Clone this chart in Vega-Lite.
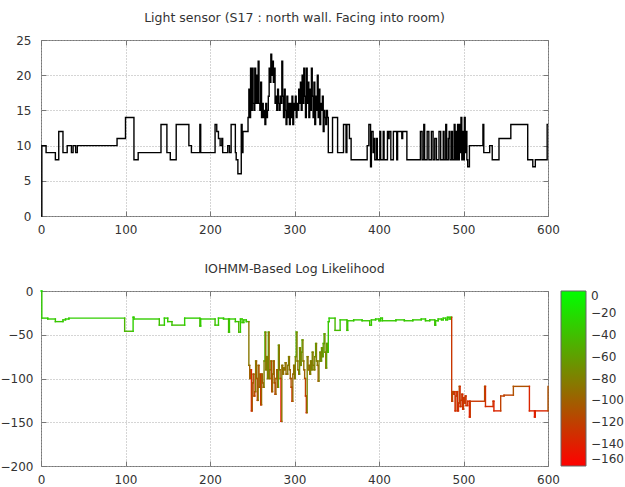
{
  "$schema": "https://vega.github.io/schema/vega-lite/v6.json",
  "background": "white",
  "padding": {"left": -1, "top": 11, "right": 0, "bottom": 0},
  "spacing": 26,
  "datasets": {
    "light": [
      {"t":0,"v":0},{"t":1,"v":10},{"t":6,"v":9},{"t":17,"v":8},{"t":21,"v":12},{"t":26,"v":9},{"t":31,"v":10},{"t":36,"v":9},{"t":38,"v":10},{"t":41,"v":9},{"t":43,"v":10},{"t":90,"v":11},{"t":100,"v":14},{"t":110,"v":8},{"t":115,"v":9},{"t":142,"v":13},{"t":149,"v":9},{"t":153,"v":8},{"t":160,"v":13},{"t":175,"v":10},{"t":178,"v":9},{"t":188,"v":13},{"t":189,"v":9},{"t":206,"v":13},{"t":208,"v":12},{"t":210,"v":11},{"t":212,"v":10},{"t":214,"v":11},{"t":215,"v":9},{"t":221,"v":10},{"t":223,"v":9},{"t":225,"v":13},{"t":230,"v":9},{"t":231,"v":8},{"t":233,"v":6},{"t":237,"v":13},{"t":238,"v":9},{"t":239,"v":12},
      {"t":245,"v":14},{"t":246,"v":18},{"t":247,"v":14},{"t":248,"v":21},{"t":249,"v":15},{"t":250,"v":21},{"t":251,"v":16},{"t":252,"v":15},{"t":253,"v":21},{"t":254,"v":16},{"t":255,"v":20},{"t":256,"v":16},{"t":257,"v":22},{"t":258,"v":16},{"t":259,"v":15},{"t":260,"v":19},{"t":261,"v":14},{"t":262,"v":16},{"t":263,"v":14},{"t":264,"v":15},{"t":265,"v":13},{"t":266,"v":16},{"t":267,"v":14},{"t":268,"v":15},{"t":269,"v":17},{"t":270,"v":21},{"t":271,"v":19},{"t":272,"v":23},{"t":273,"v":20},{"t":274,"v":22},{"t":275,"v":19},{"t":276,"v":21},{"t":277,"v":16},{"t":278,"v":17},{"t":279,"v":15},{"t":280,"v":18},{"t":281,"v":16},{"t":282,"v":15},{"t":283,"v":17},{"t":284,"v":16},{"t":285,"v":22},{"t":286,"v":17},{"t":287,"v":14},{"t":288,"v":18},{"t":289,"v":15},{"t":290,"v":13},{"t":291,"v":17},{"t":292,"v":14},{"t":293,"v":16},{"t":294,"v":13},{"t":295,"v":16},{"t":296,"v":14},{"t":297,"v":17},{"t":298,"v":13},{"t":299,"v":16},{"t":300,"v":15},{"t":301,"v":17},{"t":302,"v":14},{"t":303,"v":16},{"t":304,"v":15},{"t":305,"v":18},{"t":306,"v":16},{"t":307,"v":19},{"t":308,"v":15},{"t":309,"v":20},{"t":310,"v":16},{"t":311,"v":21},{"t":312,"v":17},{"t":313,"v":14},{"t":314,"v":21},{"t":315,"v":16},{"t":316,"v":19},{"t":317,"v":14},{"t":318,"v":18},{"t":319,"v":15},{"t":320,"v":21},{"t":321,"v":17},{"t":322,"v":14},{"t":323,"v":19},{"t":324,"v":13},{"t":325,"v":17},{"t":326,"v":15},{"t":327,"v":20},{"t":328,"v":14},{"t":329,"v":18},{"t":330,"v":13},{"t":331,"v":16},{"t":332,"v":15},{"t":333,"v":17},{"t":334,"v":12},{"t":335,"v":15},{"t":336,"v":14},{"t":337,"v":13},{"t":338,"v":15},{"t":339,"v":14},
      {"t":340,"v":9},{"t":345,"v":14},{"t":351,"v":9},{"t":358,"v":13},{"t":361,"v":9},{"t":362,"v":13},{"t":365,"v":11},{"t":367,"v":8},{"t":386,"v":10},{"t":388,"v":13},{"t":390,"v":7},{"t":391,"v":12},{"t":393,"v":9},{"t":394,"v":11},{"t":395,"v":8},{"t":397,"v":11},{"t":398,"v":8},{"t":401,"v":12},{"t":402,"v":8},{"t":405,"v":12},{"t":406,"v":8},{"t":410,"v":12},{"t":411,"v":11},{"t":412,"v":12},{"t":414,"v":8},{"t":417,"v":12},{"t":421,"v":8},{"t":422,"v":12},{"t":427,"v":11},{"t":428,"v":12},{"t":433,"v":8},{"t":449,"v":12},{"t":451,"v":8},{"t":453,"v":13},{"t":454,"v":8},{"t":457,"v":12},{"t":459,"v":8},{"t":462,"v":12},{"t":464,"v":8},{"t":466,"v":11},{"t":468,"v":8},{"t":471,"v":12},{"t":473,"v":8},{"t":476,"v":12},{"t":477,"v":8},{"t":479,"v":13},{"t":480,"v":8},{"t":482,"v":11},{"t":483,"v":12},{"t":484,"v":8},{"t":486,"v":12},{"t":487,"v":8},{"t":489,"v":13},{"t":490,"v":8},{"t":491,"v":12},{"t":492,"v":8},{"t":493,"v":13},{"t":494,"v":8},{"t":495,"v":13},{"t":496,"v":9},{"t":497,"v":14},{"t":498,"v":8},{"t":499,"v":12},{"t":500,"v":8},{"t":501,"v":14},{"t":502,"v":9},{"t":503,"v":12},{"t":504,"v":8},{"t":505,"v":7},{"t":507,"v":10},{"t":523,"v":13},{"t":524,"v":9},{"t":531,"v":10},{"t":534,"v":8},{"t":542,"v":11},{"t":556,"v":13},{"t":576,"v":8},{"t":582,"v":7},{"t":585,"v":8},{"t":599,"v":13},{"t":600,"v":13}
    ],
    "loglik": [
      {"t":0,"ll":0},{"t":1,"ll":-31},{"t":8,"ll":-32},{"t":17,"ll":-35},{"t":26,"ll":-33},{"t":29,"ll":-32},{"t":33,"ll":-31},{"t":99,"ll":-46},{"t":109,"ll":-30},{"t":110,"ll":-32},{"t":140,"ll":-39},{"t":146,"ll":-31},{"t":150,"ll":-35},{"t":155,"ll":-39},{"t":170,"ll":-31},{"t":188,"ll":-40},{"t":189,"ll":-32},{"t":206,"ll":-39},{"t":210,"ll":-31},{"t":216,"ll":-32},{"t":222,"ll":-47},{"t":223,"ll":-32},{"t":230,"ll":-35},{"t":234,"ll":-47},{"t":236,"ll":-32},{"t":238,"ll":-36},{"t":240,"ll":-33},{"t":243,"ll":-35},{"t":246,"ll":-85},
      {"t":247,"ll":-100},{"t":248,"ll":-90},{"t":249,"ll":-137},{"t":250,"ll":-105},{"t":251,"ll":-95},{"t":252,"ll":-120},{"t":253,"ll":-115},{"t":254,"ll":-80},{"t":255,"ll":-100},{"t":256,"ll":-125},{"t":257,"ll":-85},{"t":258,"ll":-110},{"t":259,"ll":-95},{"t":260,"ll":-130},{"t":261,"ll":-95},{"t":262,"ll":-105},{"t":263,"ll":-110},{"t":264,"ll":-80},{"t":265,"ll":-47},{"t":266,"ll":-90},{"t":267,"ll":-75},{"t":268,"ll":-100},{"t":269,"ll":-47},{"t":270,"ll":-100},{"t":271,"ll":-90},{"t":272,"ll":-80},{"t":273,"ll":-115},{"t":274,"ll":-95},{"t":275,"ll":-80},{"t":276,"ll":-105},{"t":277,"ll":-118},{"t":278,"ll":-100},{"t":279,"ll":-90},{"t":280,"ll":-110},{"t":281,"ll":-62},{"t":282,"ll":-90},{"t":283,"ll":-100},{"t":284,"ll":-149},{"t":285,"ll":-85},{"t":286,"ll":-95},{"t":287,"ll":-88},{"t":288,"ll":-90},{"t":289,"ll":-82},{"t":290,"ll":-95},{"t":291,"ll":-95},{"t":292,"ll":-85},{"t":293,"ll":-75},{"t":294,"ll":-90},{"t":295,"ll":-100},{"t":296,"ll":-110},{"t":297,"ll":-126},{"t":298,"ll":-95},{"t":299,"ll":-85},{"t":300,"ll":-100},{"t":301,"ll":-75},{"t":302,"ll":-47},{"t":303,"ll":-80},{"t":304,"ll":-90},{"t":305,"ll":-95},{"t":306,"ll":-65},{"t":307,"ll":-85},{"t":308,"ll":-70},{"t":309,"ll":-56},{"t":310,"ll":-80},{"t":311,"ll":-90},{"t":312,"ll":-100},{"t":313,"ll":-120},{"t":314,"ll":-139},{"t":315,"ll":-75},{"t":316,"ll":-90},{"t":317,"ll":-85},{"t":318,"ll":-95},{"t":319,"ll":-80},{"t":320,"ll":-90},{"t":321,"ll":-70},{"t":322,"ll":-85},{"t":323,"ll":-90},{"t":324,"ll":-75},{"t":325,"ll":-60},{"t":326,"ll":-80},{"t":327,"ll":-85},{"t":328,"ll":-103},{"t":329,"ll":-80},{"t":330,"ll":-70},{"t":331,"ll":-80},{"t":332,"ll":-65},{"t":333,"ll":-75},{"t":334,"ll":-60},{"t":335,"ll":-49},{"t":336,"ll":-70},{"t":337,"ll":-88},{"t":338,"ll":-60},{"t":339,"ll":-70},{"t":340,"ll":-35},
      {"t":341,"ll":-31},{"t":348,"ll":-45},{"t":354,"ll":-33},{"t":362,"ll":-45},{"t":363,"ll":-34},{"t":370,"ll":-33},{"t":380,"ll":-34},{"t":389,"ll":-39},{"t":391,"ll":-33},{"t":396,"ll":-32},{"t":400,"ll":-34},{"t":402,"ll":-31},{"t":404,"ll":-34},{"t":420,"ll":-33},{"t":430,"ll":-34},{"t":440,"ll":-33},{"t":450,"ll":-32},{"t":455,"ll":-34},{"t":460,"ll":-33},{"t":466,"ll":-39},{"t":467,"ll":-34},{"t":470,"ll":-32},{"t":474,"ll":-33},{"t":476,"ll":-31},{"t":479,"ll":-33},{"t":481,"ll":-30},{"t":483,"ll":-32},{"t":485,"ll":-30},
      {"t":486,"ll":-126},{"t":487,"ll":-115},{"t":488,"ll":-118},{"t":489,"ll":-115},{"t":490,"ll":-137},{"t":491,"ll":-120},{"t":492,"ll":-115},{"t":493,"ll":-137},{"t":494,"ll":-128},{"t":495,"ll":-109},{"t":496,"ll":-132},{"t":497,"ll":-125},{"t":498,"ll":-118},{"t":499,"ll":-135},{"t":500,"ll":-122},{"t":501,"ll":-128},{"t":502,"ll":-120},{"t":503,"ll":-131},{"t":505,"ll":-126},{"t":507,"ll":-144},{"t":508,"ll":-126},{"t":525,"ll":-109},{"t":526,"ll":-132},{"t":535,"ll":-126},{"t":536,"ll":-137},{"t":544,"ll":-120},{"t":548,"ll":-119},{"t":559,"ll":-109},{"t":578,"ll":-137},{"t":584,"ll":-144},{"t":585,"ll":-137},{"t":600,"ll":-109}
    ]
  },
  "vconcat": [
    {
      "width": 507,
      "height": 176,
      "title": {"text": "Light sensor (S17 : north wall. Facing into room)"},
      "data": {"name": "light"},
      "resolve": {"axis": {"x": "independent", "y": "independent"}},
      "layer": [
        {
          "mark": {"type": "line", "interpolate": "step-after", "color": "#000000", "strokeWidth": 1.4},
          "encoding": {
            "x": {"field": "t", "type": "quantitative", "scale": {"domain": [0, 600], "nice": false, "zero": false},
                  "axis": {"values": [0, 100, 200, 300, 400, 500, 600]}},
            "y": {"field": "v", "type": "quantitative", "scale": {"domain": [0, 25], "nice": false},
                  "axis": {"values": [0, 5, 10, 15, 20, 25], "minExtent": 0}}
          }
        },
        {
          "mark": {"type": "line", "interpolate": "step-after", "opacity": 0},
          "encoding": {
            "x": {"field": "t", "type": "quantitative",
                  "axis": {"orient": "top", "labels": false, "grid": false, "minExtent": 0, "values": [0, 100, 200, 300, 400, 500, 600]}},
            "y": {"field": "v", "type": "quantitative",
                  "axis": {"orient": "right", "labels": false, "grid": false, "minExtent": 0, "values": [0, 5, 10, 15, 20, 25]}}
          }
        }
      ]
    },
    {
      "width": 507,
      "height": 175,
      "title": {"text": "IOHMM-Based Log Likelihood"},
      "data": {"name": "loglik"},
      "transform": [
        {"window": [{"op": "lead", "field": "t", "as": "t2"}, {"op": "lead", "field": "ll", "as": "ll2"}], "sort": [{"field": "t"}]},
        {"filter": "datum.t2 != null"}
      ],
      "resolve": {"axis": {"x": "independent", "y": "independent"}},
      "layer": [
        {
          "mark": {"type": "rule", "strokeWidth": 1.4, "strokeCap": "square"},
          "encoding": {
            "x": {"field": "t", "type": "quantitative", "scale": {"domain": [0, 600], "nice": false, "zero": false},
                  "axis": {"values": [0, 100, 200, 300, 400, 500, 600]}},
            "x2": {"field": "t2"},
            "y": {"field": "ll", "type": "quantitative", "scale": {"domain": [-200, 0], "nice": false},
                  "axis": {"values": [-200, -150, -100, -50, 0], "minExtent": 0, "labelPadding": 13}},
            "color": {"field": "ll", "type": "quantitative",
                      "scale": {"domain": [-160, 0], "range": ["#ff0000", "#00ff00"], "interpolate": "rgb"},
                      "legend": {"title": null, "orient": "right", "direction": "vertical", "gradientLength": 175, "gradientThickness": 25,
                                 "values": [0, -20, -40, -60, -80, -100, -120, -140, -160], "labelBaseline": "middle",
                                 "labelFont": "DejaVu Sans", "labelFontSize": 12, "labelColor": "#333333", "labelOverlap": false,
                                 "gradientStrokeColor": "#666666", "gradientStrokeWidth": 1, "offset": 12, "labelOffset": 5, "padding": 0}}
          }
        },
        {
          "mark": {"type": "rule", "strokeWidth": 1.4, "strokeCap": "square"},
          "encoding": {
            "x": {"field": "t2", "type": "quantitative",
                  "axis": {"orient": "top", "labels": false, "grid": false, "minExtent": 0, "values": [0, 100, 200, 300, 400, 500, 600]}},
            "y": {"field": "ll", "type": "quantitative",
                  "axis": {"orient": "right", "labels": false, "grid": false, "minExtent": 0, "values": [-200, -150, -100, -50, 0]}},
            "y2": {"field": "ll2"},
            "color": {"field": "ll2", "type": "quantitative"}
          }
        }
      ]
    }
  ],
  "resolve": {"scale": {"color": "independent"}, "legend": {"color": "independent"}},
  "config": {
    "font": "DejaVu Sans",
    "view": {"stroke": "#777777", "strokeWidth": 1},
    "axis": {
      "title": null,
      "labelFont": "DejaVu Sans",
      "labelFontSize": 12,
      "labelColor": "#333333",
      "grid": true,
      "gridColor": "#aaaaaa",
      "gridDash": [1, 2],
      "gridWidth": 1,
      "domain": false,
      "tickColor": "#777777",
      "tickSize": -5,
      "labelFlush": false
    },
    "axisX": {"labelPadding": 13},
    "axisY": {"labelPadding": 15},
    "title": {"font": "DejaVu Sans", "fontSize": 12.5, "fontWeight": "normal", "color": "#333333", "frame": "group", "anchor": "middle", "offset": 10}
  }
}
